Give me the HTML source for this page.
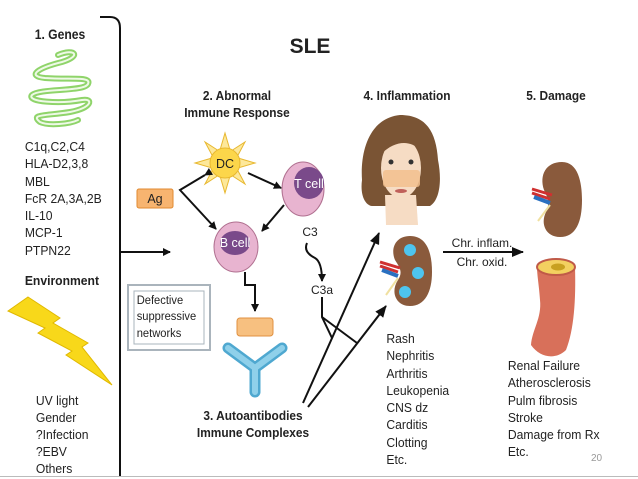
<!DOCTYPE html>
<html><head><meta charset="utf-8"><style>
html,body{margin:0;padding:0;background:#fff;}
svg{display:block;}
text{font-family:"Liberation Sans",sans-serif;fill:#222;}
.b{font-weight:bold;}
</style></head><body>
<svg width="638" height="479" viewBox="0 0 638 479" xmlns="http://www.w3.org/2000/svg">
<defs>
<marker id="ah" markerWidth="8" markerHeight="8" refX="7" refY="4" orient="auto" markerUnits="userSpaceOnUse"><path d="M0,0 L8,4 L0,8 Z" fill="#111"/></marker>
<marker id="ah2" markerWidth="12" markerHeight="10" refX="11" refY="5" orient="auto" markerUnits="userSpaceOnUse"><path d="M0,0 L12,5 L0,10 Z" fill="#111"/></marker>
</defs>
<path d="M100,17 L110,17 Q120,17 120,28 L120,476" fill="none" stroke="#111" stroke-width="2"/>
<line x1="0" y1="476.5" x2="638" y2="476.5" stroke="#bbb" stroke-width="1"/>
<text x="60" y="39" text-anchor="middle" class="b" font-size="13.5" transform="translate(60,0) scale(0.9,1) translate(-60,0)">1. Genes</text>
<g fill="none" stroke-linecap="round">
<path id="coil" d="M58,55 C75,48 82,56 62,62 C38,68 26,76 45,78 C70,80 92,76 88,84 C84,92 40,88 32,95 C26,102 60,104 82,100 C94,98 92,108 70,112 C45,116 30,114 40,122 C48,126 70,124 78,120" stroke="#8fd46a" stroke-width="6"/>
<path d="M58,55 C75,48 82,56 62,62 C38,68 26,76 45,78 C70,80 92,76 88,84 C84,92 40,88 32,95 C26,102 60,104 82,100 C94,98 92,108 70,112 C45,116 30,114 40,122 C48,126 70,124 78,120" stroke="#eef9e6" stroke-width="2"/>
</g>
<g font-size="13.2" transform="scale(0.92,1)">
<text x="27" y="151">C1q,C2,C4</text>
<text x="27" y="168">HLA-D2,3,8</text>
<text x="27" y="186">MBL</text>
<text x="27" y="203">FcR 2A,3A,2B</text>
<text x="27" y="220">IL-10</text>
<text x="27" y="237">MCP-1</text>
<text x="27" y="255">PTPN22</text>
<text x="27" y="285" class="b">Environment</text>
<text x="39" y="405">UV light</text>
<text x="39" y="422">Gender</text>
<text x="39" y="439">?Infection</text>
<text x="39" y="456">?EBV</text>
<text x="39" y="473">Others</text>
</g>
<polygon points="28,297 60,318 53,323 88,343 82,347 112,385 66,355 72,351 38,333 45,328 8,311" fill="#f8d81a" stroke="#e0b800" stroke-width="1"/>
<text x="310" y="53" text-anchor="middle" class="b" font-size="21" fill="#000">SLE</text>
<g font-size="13.2" class="b" text-anchor="middle">
<text x="237" y="100" transform="translate(237,0) scale(0.9,1) translate(-237,0)">2. Abnormal</text>
<text x="237" y="117" transform="translate(237,0) scale(0.9,1) translate(-237,0)">Immune Response</text>
<text x="407" y="100" transform="translate(407,0) scale(0.9,1) translate(-407,0)">4. Inflammation</text>
<text x="556" y="100" transform="translate(556,0) scale(0.9,1) translate(-556,0)">5. Damage</text>
<text x="253" y="420" transform="translate(253,0) scale(0.9,1) translate(-253,0)">3. Autoantibodies</text>
<text x="253" y="437" transform="translate(253,0) scale(0.9,1) translate(-253,0)">Immune Complexes</text>
</g>
<g transform="translate(225,163)" fill="#fde89a" stroke="#e8b830" stroke-width="1">
<path d="M-5,-13 L0,-30 L5,-13 Z"/>
<path d="M-5,13 L0,30 L5,13 Z"/>
<path d="M-13,-5 L-30,0 L-13,5 Z"/>
<path d="M13,-5 L30,0 L13,5 Z"/>
<path d="M6,-12 L20,-21 L12,-6 Z"/>
<path d="M-6,-12 L-20,-21 L-12,-6 Z"/>
<path d="M6,12 L20,21 L12,6 Z"/>
<path d="M-6,12 L-20,21 L-12,6 Z"/>
<circle r="15" fill="#fcd64a"/>
</g>
<text x="225" y="168" text-anchor="middle" font-size="12.5">DC</text>
<ellipse cx="303" cy="189" rx="21" ry="27" fill="#e8b4d0" stroke="#b07090" stroke-width="1"/>
<ellipse cx="309" cy="183" rx="15" ry="16" fill="#7a4a8a"/>
<text x="309" y="188" text-anchor="middle" font-size="12.5" style="fill:#fff">T cell</text>
<ellipse cx="236" cy="247" rx="22" ry="25" fill="#e8b4d0" stroke="#b07090" stroke-width="1"/>
<ellipse cx="235" cy="243" rx="15" ry="12" fill="#7a4a8a"/>
<text x="235" y="247" text-anchor="middle" font-size="12.5" style="fill:#fff">B cell</text>
<rect x="137" y="189" width="36" height="19" rx="2" fill="#f7b470" stroke="#e08a30"/>
<text x="155" y="203" text-anchor="middle" font-size="12.5">Ag</text>
<g stroke="#111" stroke-width="2" fill="none">
<polyline points="205,175 180,190 216,229" marker-start="url(#ah)" marker-end="url(#ah)"/>
<line x1="248" y1="173" x2="281" y2="188" marker-end="url(#ah)"/>
<line x1="284" y1="205" x2="262" y2="231" marker-end="url(#ah)"/>
<line x1="121" y1="252" x2="170" y2="252" marker-end="url(#ah)"/>
<polyline points="245,272 245,285 255,285 255,311" marker-end="url(#ah)"/>
<path d="M307,243 Q303,252 315,258 Q322,262 322,281" marker-end="url(#ah)"/>
<line x1="303" y1="403" x2="379" y2="233" marker-end="url(#ah2)"/>
<line x1="308" y1="407" x2="386" y2="306" marker-end="url(#ah2)"/>
<polyline points="322,297 322,317 332,338"/>
<line x1="322" y1="317" x2="357" y2="343"/>
<line x1="443" y1="252" x2="523" y2="252" marker-end="url(#ah2)"/>
</g>
<text x="310" y="236" text-anchor="middle" font-size="12">C3</text>
<text x="322" y="294" text-anchor="middle" font-size="12">C3a</text>
<rect x="128" y="285" width="82" height="65" fill="#fff" stroke="#aab4bc" stroke-width="2"/>
<rect x="134" y="291" width="70" height="53" fill="#fff" stroke="#aab4bc" stroke-width="1"/>
<g font-size="12" transform="scale(0.93,1)"><text x="147" y="304">Defective</text><text x="147" y="320">suppressive</text><text x="147" y="337">networks</text></g>
<rect x="237" y="318" width="36" height="18" rx="3" fill="#f7c080" stroke="#e09040"/>
<path d="M228,348 L255,368 L282,348" fill="none" stroke="#4fa8d0" stroke-width="11" stroke-linecap="round" stroke-linejoin="round"/>
<path d="M255,368 L255,392" stroke="#4fa8d0" stroke-width="11" stroke-linecap="round"/>
<path d="M228,348 L255,368 L282,348 M255,368 L255,392" fill="none" stroke="#8fd0ea" stroke-width="6" stroke-linecap="round" stroke-linejoin="round"/>
<path d="M400,115 C370,118 360,150 362,180 C360,195 365,205 372,206 L430,206 C440,200 442,180 438,160 C436,130 425,115 400,115 Z" fill="#7a5434"/>
<path d="M385,195 L386,225 L418,225 L416,195 Z" fill="#f6dcc4"/>
<ellipse cx="401" cy="168" rx="20" ry="30" fill="#f6dcc4"/>
<path d="M380,150 C392,128 410,130 420,150 C410,140 395,140 380,155 Z" fill="#7a5434"/>
<rect x="383" y="170" width="37" height="17" rx="3" fill="#f2c08e" opacity="0.85"/>
<circle cx="391" cy="162" r="2.5" fill="#333"/><circle cx="411" cy="162" r="2.5" fill="#333"/>
<ellipse cx="401" cy="191" rx="6" ry="2" fill="#c0605a"/>
<path d="M410,236 C428,236 432,255 432,272 C432,292 425,306 410,306 C396,306 390,292 398,280 C403,272 400,268 395,260 C390,248 396,236 410,236 Z" fill="#8a5a3c"/>
<circle cx="410" cy="250" r="6" fill="#4ec4ee"/><circle cx="418" cy="273" r="6" fill="#4ec4ee"/><circle cx="405" cy="292" r="6" fill="#4ec4ee"/>
<path d="M380,262 L400,268 M380,266 L398,272" stroke="#d03030" stroke-width="3"/>
<path d="M382,270 L398,276" stroke="#2a70c0" stroke-width="4"/>
<path d="M398,278 L386,295" stroke="#f0e0a0" stroke-width="2"/>
<text x="482" y="247" text-anchor="middle" font-size="12">Chr. inflam.</text>
<text x="482" y="266" text-anchor="middle" font-size="12">Chr. oxid.</text>
<path d="M562,162 C578,162 582,182 582,200 C582,222 576,237 560,237 C546,237 540,224 546,212 C550,204 548,198 544,190 C539,175 546,162 562,162 Z" fill="#8a5a3c"/>
<path d="M532,189 L552,195 M532,193 L550,199" stroke="#d03030" stroke-width="3"/>
<path d="M534,197 L550,203" stroke="#2a70c0" stroke-width="4"/>
<path d="M550,205 L538,221" stroke="#f0e0a0" stroke-width="2"/>
<path d="M537,267 L575,267 C576,300 574,330 566,350 C556,360 540,358 531,345 C532,330 542,318 540,300 C539,285 537,275 537,267 Z" fill="#d8705a"/>
<ellipse cx="556" cy="267" rx="19" ry="8" fill="#f3d060" stroke="#c05a48" stroke-width="2"/>
<ellipse cx="558" cy="267" rx="7" ry="3.5" fill="#c8a020"/>
<g font-size="13.2" transform="scale(0.92,1)">
<text x="420" y="343">Rash</text>
<text x="420" y="360">Nephritis</text>
<text x="420" y="378">Arthritis</text>
<text x="420" y="395">Leukopenia</text>
<text x="420" y="412">CNS dz</text>
<text x="420" y="429">Carditis</text>
<text x="420" y="447">Clotting</text>
<text x="420" y="464">Etc.</text>
<text x="552" y="370">Renal Failure</text>
<text x="552" y="387">Atherosclerosis</text>
<text x="552" y="405">Pulm fibrosis</text>
<text x="552" y="422">Stroke</text>
<text x="552" y="439">Damage from Rx</text>
<text x="552" y="456">Etc.</text>
</g>
<text x="591" y="461" font-size="10" style="fill:#999">20</text>
</svg>
</body></html>
